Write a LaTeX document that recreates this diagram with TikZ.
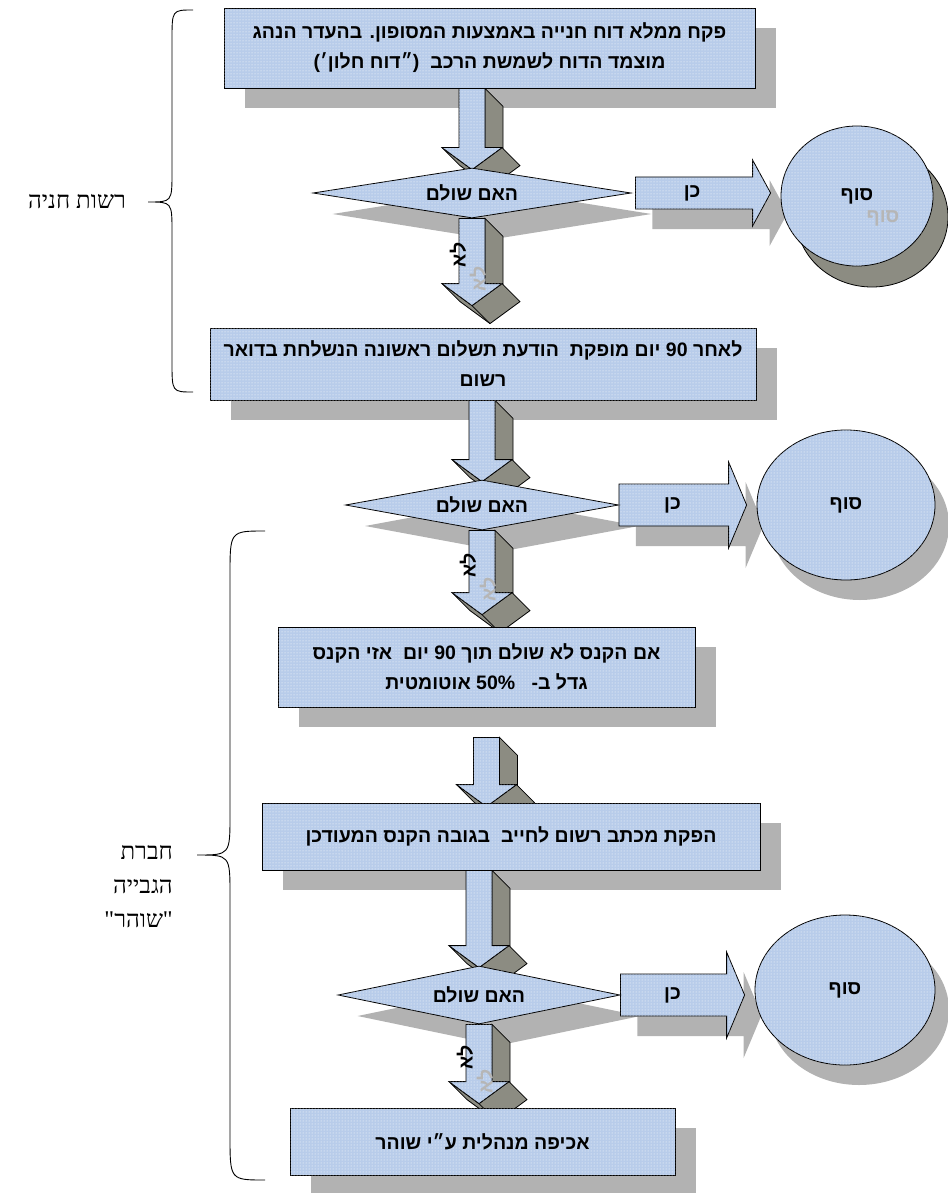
\documentclass[tikz,border=0pt]{standalone}
\usepackage{fontspec}
\usetikzlibrary{shapes.geometric,calc,patterns,positioning}
\newfontfamily\hebfont[Script=Hebrew]{Liberation Sans Bold}
\newfontfamily\hebserif[Script=Hebrew]{Liberation Serif}
\TeXXeTstate=1

\definecolor{boxblue}{RGB}{184,204,234}
\definecolor{shadowgray}{RGB}{178,178,178}
\definecolor{sidegray}{RGB}{140,140,130}
\definecolor{ghostgray}{RGB}{182,182,182}

\pgfdeclarelayer{shadows}
\pgfdeclarelayer{arrows}
\pgfsetlayers{shadows,arrows,main}

\tikzset{
	blueface/.style={draw, line width=.8pt, fill=boxblue, postaction={pattern=dots, pattern color=white}},
	sideface/.style={draw, line width=.8pt, fill=sidegray},
	txt/.style={inner sep=0, font=\hebfont\fontsize{19.5}{30}\selectfont},
	box/.style={blueface, txt, rectangle, align=center},
	cond/.style={blueface, txt, diamond, shape aspect=6},
	endnode/.style={blueface, txt, ellipse},
	ghost/.style={text=ghostgray},
	grouplabel/.style={inner sep=0, align=right, font=\hebserif\fontsize{24}{34}\selectfont},
}

% 3D block arrow pointing down: #1 top, #2 tip
\newcommand\dnarrow[2]{
	\draw[sideface] ($(#1)+(13,0)$) -- ($(#1)+(31,18)$) -- ($(#2)+(31,-4)$) -- ($(#2)+(13,-22)$) -- cycle;
	\draw[sideface] ($(#2)+(-30,-22)$) -- (#2) -- ($(#2)+(30,-22)$) -- ($(#2)+(48,-4)$) -- ($(#2)+(18,18)$) -- ($(#2)+(-12,-4)$) -- cycle;
	\draw[line width=.8pt] (#2) -- ($(#2)+(18,18)$);
	\draw[blueface] ($(#1)+(-13,0)$) -- ($(#2)+(-13,-22)$) -- ($(#2)+(-30,-22)$) -- (#2) -- ($(#2)+(30,-22)$) -- ($(#2)+(13,-22)$) -- ($(#1)+(13,0)$) -- cycle;
}
% flat block arrow pointing right: #1 tail, #2 tip, #3 shaft, #4 head
\newcommand\yespath[4]{($(#1)+(0,-#3)$) -- ($(#2)+(-18,-#3)$) -- ($(#2)+(-18,-#4)$) -- (#2) -- ($(#2)+(-18,#4)$) -- ($(#2)+(-18,#3)$) -- ($(#1)+(0,#3)$) -- cycle}

\begin{document}
\begin{tikzpicture}[x=1pt, y=-1pt]
	\useasboundingbox (0,0) rectangle (947,1193);

	% steps
	\node[box, minimum width=531, minimum height=80] (b1) at (489.5,48)
		{\beginR פקח ממלא דוח חנייה באמצעות המסופון. בהעדר הנהג\endR\\ \beginR מוצמד הדוח לשמשת הרכב~ (״דוח חלון׳)\endR};
	\node[cond, minimum width=318, minimum height=50] (d1) at (472,193) {\beginR האם שולם\endR};
	\node[endnode, minimum width=152, minimum height=140] (e1) at (857,196) {\beginR סוף\endR};
	\node[txt, ghost] (e1g) at ($(e1)+(26,22)$) {\beginR סוף\endR};

	\node[box, minimum width=546, minimum height=72] (b2) at (483,364)
		{\beginR לאחר \beginL 90\endL{} יום מופקת~ הודעת תשלום ראשונה הנשלחת בדואר\endR\\ \beginR רשום\endR};
	\node[cond, minimum width=273, minimum height=50] (d2) at (482,505) {\beginR האם שולם\endR};
	\node[endnode, minimum width=178, minimum height=150] (e2) at (846,505) {\beginR סוף\endR};

	\node[box, minimum width=417, minimum height=80] (b3) at (486.5,667)
		{\beginR אם הקנס לא שולם תוך \beginL 90\endL{} יום~ אזי הקנס\endR\\ \beginR גדל ב-~~ \beginL 50\%\endL{} אוטומטית\endR};
	\node[box, minimum width=498, minimum height=67] (b4) at (511,836.5)
		{\beginR הפקת מכתב רשום לחייב~ בגובה הקנס המעודכן\endR};
	\node[cond, minimum width=282, minimum height=58] (d3) at (479,995) {\beginR האם שולם\endR};
	\node[endnode, minimum width=180, minimum height=150] (e3) at (845,990) {\beginR סוף\endR};
	\node[box, minimum width=385, minimum height=67] (b5) at (482.5,1141.5)
		{\beginR אכיפה מנהלית ע״י שוהר\endR};

	% arrow ends
	\coordinate (a1t) at (b1.south -| d1.north);
	\coordinate (a1b) at ($(d1.north)+(0,2)$);
	\coordinate (n1t) at (d1.south);
	\coordinate (n1b) at ($(d1.south |- b2.north)+(0,-22)$);
	\coordinate (a2t) at (b2.south -| d2.north);
	\coordinate (a2b) at ($(d2.north)+(0,2)$);
	\coordinate (n2t) at (d2.south);
	\coordinate (n2b) at ($(d2.south |- b3.north)+(0,-12)$);
	\coordinate (a3t) at ($(b3.south)+(0,30)$);
	\coordinate (a3b) at ($(b3.south |- b4.north)+(0,4)$);
	\coordinate (a4t) at (b4.south -| d3.north);
	\coordinate (a4b) at ($(d3.north)+(0,2)$);
	\coordinate (n3t) at (d3.south);
	\coordinate (n3b) at ($(d3.south |- b5.north)+(0,-4)$);
	\coordinate (y1a) at ($(d1.east)+(4,0)$);
	\coordinate (y1b) at ($(e1.west |- d1.east)+(-10,0)$);
	\coordinate (y2a) at (d2.east);
	\coordinate (y2b) at ($(e2.west |- d2.east)+(-10,0)$);
	\coordinate (y3a) at (d3.east);
	\coordinate (y3b) at ($(e3.west |- d3.east)+(-10,0)$);

	\begin{pgfonlayer}{shadows}
		\foreach \n in {b1,b2,b3,b4,b5}
			\fill[shadowgray, transform canvas={shift={(21,20)}}] (\n.south west) rectangle (\n.north east);
		\foreach \n in {d1,d2,d3}
			\fill[shadowgray, transform canvas={shift={(20,21)}}] (\n.west) -- (\n.north) -- (\n.east) -- (\n.south) -- cycle;
		\fill[shadowgray, transform canvas={shift={(17,20)}}] \yespath{y1a}{y1b}{16}{33};
		\fill[shadowgray, transform canvas={shift={(17,20)}}] \yespath{y2a}{y2b}{21}{43};
		\fill[shadowgray, transform canvas={shift={(17,20)}}] \yespath{y3a}{y3b}{21}{43};
		\filldraw[fill=sidegray, line width=.8pt, transform canvas={shift={(15,21)}}] (e1.center) ellipse [x radius=76, y radius=70];
		\fill[shadowgray, transform canvas={shift={(14,20)}}] (e2.center) ellipse [x radius=89, y radius=75];
		\fill[shadowgray, transform canvas={shift={(14,20)}}] (e3.center) ellipse [x radius=90, y radius=75];
	\end{pgfonlayer}

	\begin{pgfonlayer}{arrows}
		\dnarrow{a1t}{a1b}
		\dnarrow{n1t}{n1b}
		\dnarrow{a2t}{a2b}
		\dnarrow{n2t}{n2b}
		\dnarrow{a3t}{a3b}
		\dnarrow{a4t}{a4b}
		\dnarrow{n3t}{n3b}
		\draw[blueface] \yespath{y1a}{y1b}{16}{33};
		\draw[blueface] \yespath{y2a}{y2b}{21}{43};
		\draw[blueface] \yespath{y3a}{y3b}{21}{43};
	\end{pgfonlayer}

	% labels on the arrows
	\node[txt] (yes1) at ($(y1a)!0.42!(y1b)$) {\beginR כן\endR};
	\node[txt] (yes2) at ($(y2a)!0.42!(y2b)$) {\beginR כן\endR};
	\node[txt] (yes3) at ($(y3a)!0.42!(y3b)$) {\beginR כן\endR};
	\node[txt, rotate=90] (no1) at ($(n1t)!0.42!(n1b)+(-14,0)$) {\beginR לא\endR};
	\node[txt, ghost, rotate=90] (no1g) at ($(no1)+(20,24)$) {\beginR לא\endR};
	\node[txt, rotate=90] (no2) at ($(n2t)!0.42!(n2b)+(-14,0)$) {\beginR לא\endR};
	\node[txt, ghost, rotate=90] (no2g) at ($(no2)+(20,24)$) {\beginR לא\endR};
	\node[txt, rotate=90] (no3) at ($(n3t)!0.42!(n3b)+(-14,0)$) {\beginR לא\endR};
	\node[txt, ghost, rotate=90] (no3g) at ($(no3)+(20,24)$) {\beginR לא\endR};

	% braces
	\draw[line width=.9pt] (193,10) .. controls (172,10) .. (172,40) -- (172,172) .. controls (172,202) .. (148,202)
		.. controls (172,202) .. (172,232) -- (172,362) .. controls (172,392) .. (193,392);
	\coordinate (br1) at (148,202);
	\node[grouplabel, left=22pt of br1] (lab1) {\beginR רשות חניה\endR};

	\draw[line width=.9pt] (265,531) .. controls (230,531) .. (230,575) -- (230,815) .. controls (230,855) .. (197,855)
		.. controls (230,855) .. (230,895) -- (230,1136) .. controls (230,1180) .. (265,1180);
	\coordinate (br2) at (197,855);
	\node[grouplabel, left=24pt of br2, yshift=-32pt] (lab2) {\beginR חברת\endR\\ \beginR הגבייה\endR\\ \beginR "שוהר"\endR};
\end{tikzpicture}
\end{document}
